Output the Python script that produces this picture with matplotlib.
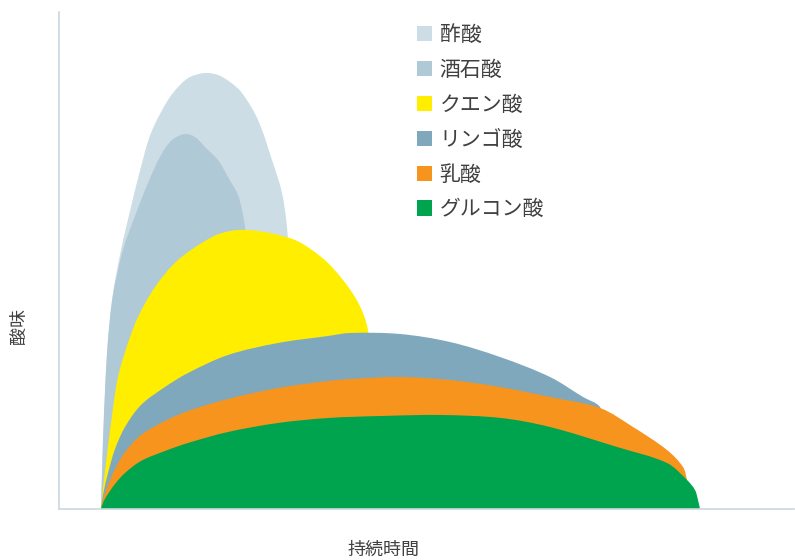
import matplotlib
matplotlib.use("Agg")
import numpy as np
import matplotlib.pyplot as plt
from matplotlib.patches import Patch, PathPatch
from matplotlib.path import Path

plt.rcParams['font.family'] = ['Noto Sans CJK JP', 'DejaVu Sans']

# Data (arbitrary units: duration vs sourness)
acetic_t = [0, 1, 3, 6, 11, 20, 30, 40, 50, 67, 79, 89, 104, 117, 129, 141, 157, 171, 181, 186, 188, 191, 199, 209]
acetic_s = [0, 39, 89, 155, 209, 259, 302, 342, 376, 409, 424, 432, 436, 434, 427, 416, 389, 349, 316, 282, 249, 209, 109, 0]

tartaric_t = [0, 1, 2, 4, 7, 12, 22, 34, 47, 60, 71, 84, 94, 104, 117, 127, 137, 141, 144, 146, 149, 154]
tartaric_s = [0, 34, 69, 119, 169, 214, 259, 293, 326, 354, 369, 375, 372, 362, 349, 332, 314, 299, 282, 259, 209, 0]

citric_t = [0, 2, 5, 10, 17, 27, 37, 54, 77, 111, 129, 147, 169, 194, 211, 227, 242, 254, 262, 267, 274, 284]
citric_s = [0, 21, 46, 86, 132, 166, 192, 222, 249, 272, 278, 279, 276, 269, 259, 246, 229, 212, 196, 179, 129, 0]

malic_t = [0, 2, 7, 14, 24, 40, 64, 87, 127, 177, 227, 249, 299, 349, 399, 449, 482, 499, 506, 514]
malic_s = [0, 14, 36, 60, 82, 104, 122, 136, 154, 166, 173, 176, 175, 167, 152, 132, 112, 102, 79, 0]

lactic_t = [0, 2, 5, 14, 24, 40, 64, 87, 127, 177, 227, 249, 299, 349, 399, 449, 499, 532, 566, 582, 586, 588, 589]
lactic_s = [0, 9, 19, 40, 57, 74, 88, 98, 110, 121, 128, 130, 132, 129, 122, 112, 101, 82, 59, 42, 29, 19, 0]

gluconic_t = [0, 2, 5, 14, 24, 40, 64, 87, 127, 177, 227, 280, 340, 400, 449, 516, 566, 586, 594, 597, 599]
gluconic_s = [0, 6, 12, 25, 36, 48, 58, 66, 77, 86, 91, 93, 94, 91, 82, 62, 46, 29, 19, 9, 0]

labels = ['酢酸', '酒石酸', 'クエン酸', 'リンゴ酸', '乳酸', 'グルコン酸']
colors = ['#CCDDE6', '#B0C9D6', '#FFEE00', '#7FA8BD', '#F7941E', '#00A34E']
series = [(acetic_t, acetic_s), (tartaric_t, tartaric_s), (citric_t, citric_s),
          (malic_t, malic_s), (lactic_t, lactic_s), (gluconic_t, gluconic_s)]


def smooth_area_path(t, s):
    """Closed Bezier path through the data points (chord-length Catmull-Rom tangents)."""
    p = np.column_stack([t, s]).astype(float)
    n = len(p)
    d = np.linalg.norm(np.diff(p, axis=0), axis=1)
    tang = np.zeros_like(p)
    for i in range(n):
        if i == 0:
            tang[i] = (p[1] - p[0]) / d[0]
        elif i == n - 1:
            tang[i] = (p[-1] - p[-2]) / d[-1]
        else:
            tang[i] = (p[i + 1] - p[i - 1]) / (d[i - 1] + d[i])
    verts = [tuple(p[0])]
    codes = [Path.MOVETO]
    for i in range(n - 1):
        c1 = p[i] + tang[i] * d[i] / 3.0
        c2 = p[i + 1] - tang[i + 1] * d[i] / 3.0
        c1[1] = max(c1[1], 0)
        c2[1] = max(c2[1], 0)
        verts += [tuple(c1), tuple(c2), tuple(p[i + 1])]
        codes += [Path.CURVE4] * 3
    verts.append(tuple(p[0]))
    codes.append(Path.LINETO)
    verts.append(tuple(p[0]))
    codes.append(Path.CLOSEPOLY)
    return Path(verts, codes)


fig = plt.figure(figsize=(7.95, 5.6), dpi=100)
ax = fig.add_axes([59 / 795, 51 / 560, 735 / 795, 497 / 560])

for (t, s), c in zip(series, colors):
    ax.add_patch(PathPatch(smooth_area_path(t, s), facecolor=c, edgecolor='none', linewidth=0))

ax.set_xlim(-42, 693)
ax.set_ylim(0, 497)
ax.set_xticks([])
ax.set_yticks([])
for side in ['top', 'right']:
    ax.spines[side].set_visible(False)
for side in ['left', 'bottom']:
    ax.spines[side].set_color('#C8D8E3')
    ax.spines[side].set_linewidth(1.2)

handles = [Patch(facecolor=c, edgecolor='none') for c in colors]
fig.legend(handles, labels, loc='upper left', bbox_to_anchor=(398 / 795, 1 - 5 / 560),
           frameon=False, fontsize=15, handlelength=0.75, handleheight=0.75,
           handletextpad=0.35, labelspacing=0.62, labelcolor='#404040')

fig.text(384 / 795, 1 - 550 / 560, '持続時間', ha='center', va='center', fontsize=13, color='#404040')
fig.text(19 / 795, 1 - 326 / 560, '酸味', ha='center', va='center', rotation=90, fontsize=13, color='#404040')

fig.savefig('out.png', dpi=100)
